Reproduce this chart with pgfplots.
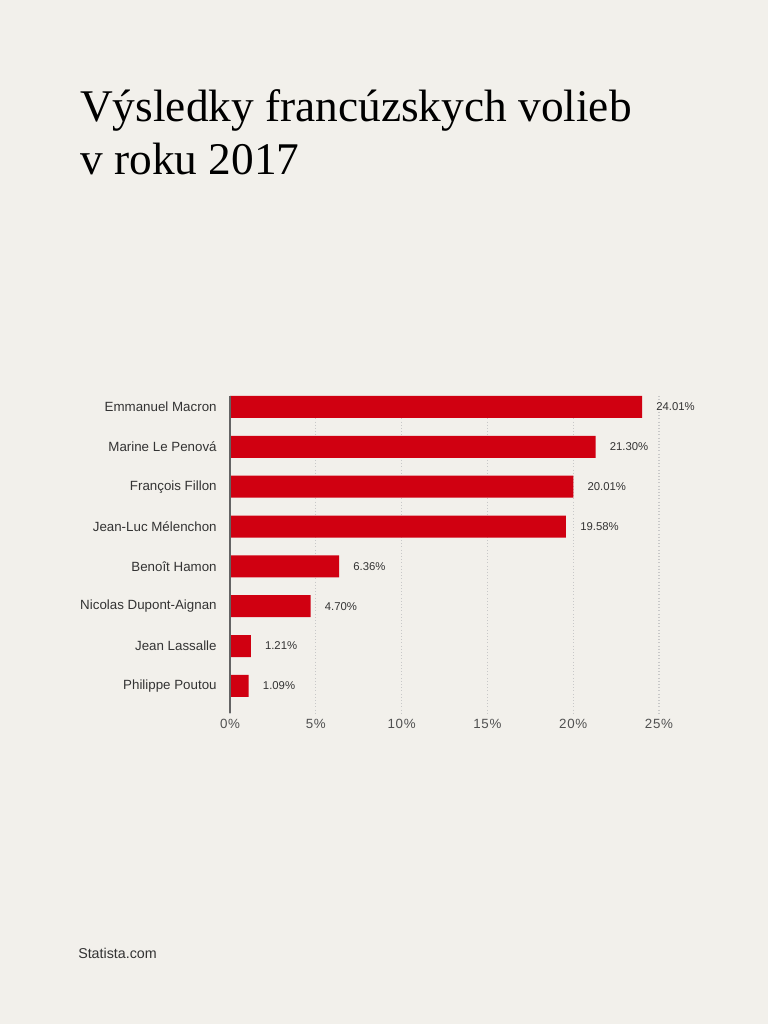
\documentclass[border=0pt]{standalone}
\usepackage{pgfplots}
\pgfplotsset{compat=1.18}
\usepackage{pgfplotstable}
\usepackage{fontspec}
\setmainfont{Liberation Sans}
\newfontfamily\titlefont{Liberation Serif}
\newfontfamily\tickfont{Liberation Sans}[LetterSpace=5]

\definecolor{bg}{RGB}{242,240,235}
\definecolor{barred}{RGB}{208,0,17}
\definecolor{txt}{RGB}{51,51,51}
\definecolor{tickc}{RGB}{80,80,80}
\definecolor{gridc}{RGB}{200,200,200}
\definecolor{axisc}{RGB}{100,100,100}

% share of votes, first round 2017
\pgfplotstableread{
pos votes
0 24.01
1 21.30
2 20.01
3 19.58
4 6.36
5 4.70
6 1.21
7 1.09
}\results

\begin{document}
\begin{tikzpicture}
\fill[bg] (0,0) rectangle (576pt,768pt);
\useasboundingbox (0,0) rectangle (576pt,768pt);

\node[anchor=base west, inner sep=0, font=\titlefont\fontsize{34}{40}\selectfont]
  at (60pt,676.5pt) {Výsledky francúzskych volieb};
\node[anchor=base west, inner sep=0, font=\titlefont\fontsize{34}{40}\selectfont]
  at (60pt,636.75pt) {v roku 2017};

\begin{axis}[
    at={(172.5pt,233.25pt)}, anchor=south west,
    scale only axis,
    width=321.75pt, height=237.75pt,
    xmin=0, xmax=25,
    ymin=-0.276, ymax=7.68,
    y dir=reverse,
    axis line style={draw=none},
    xtick={0,5,10,15,20,25},
    xticklabels={0\%,5\%,10\%,15\%,20\%,25\%},
    ytick={0,1,2,3,4,5,6,7},
    yticklabels={Emmanuel Macron,Marine Le Penová,François Fillon,Jean-Luc Mélenchon,Benoît Hamon,Nicolas Dupont-Aignan,Jean Lassalle,Philippe Poutou},
    major tick length=0pt,
    xmajorgrids=true,
    grid style={gridc, dotted, line width=0.8pt},
    xticklabel style={font=\tickfont\fontsize{10}{12}\selectfont, text=tickc, yshift=-1pt},
    yticklabel style={font=\fontsize{10}{12}\selectfont, text=txt, xshift=-6.5pt},
    xbar, bar width=16.5pt,
    /pgf/number format/assume math mode=true,
    nodes near coords={\pgfmathprintnumber[fixed,fixed zerofill,precision=2]{\pgfplotspointmeta}\%},
    nodes near coords style={font=\fontsize{8.5}{10}\selectfont, text=txt, anchor=west, inner sep=0pt, xshift=10.5pt},
    point meta=x,
    clip=false,
]
\addplot[fill=barred, draw=none] table[x=votes, y=pos] {\results};
\draw[axisc, line width=1.5pt] (axis cs:0,-0.276) -- (axis cs:0,7.68);
\end{axis}

\node[anchor=base west, inner sep=0, font=\fontsize{10.7}{13}\selectfont, text=txt]
  at (58.5pt,49pt) {Statista.com};
\end{tikzpicture}
\end{document}
